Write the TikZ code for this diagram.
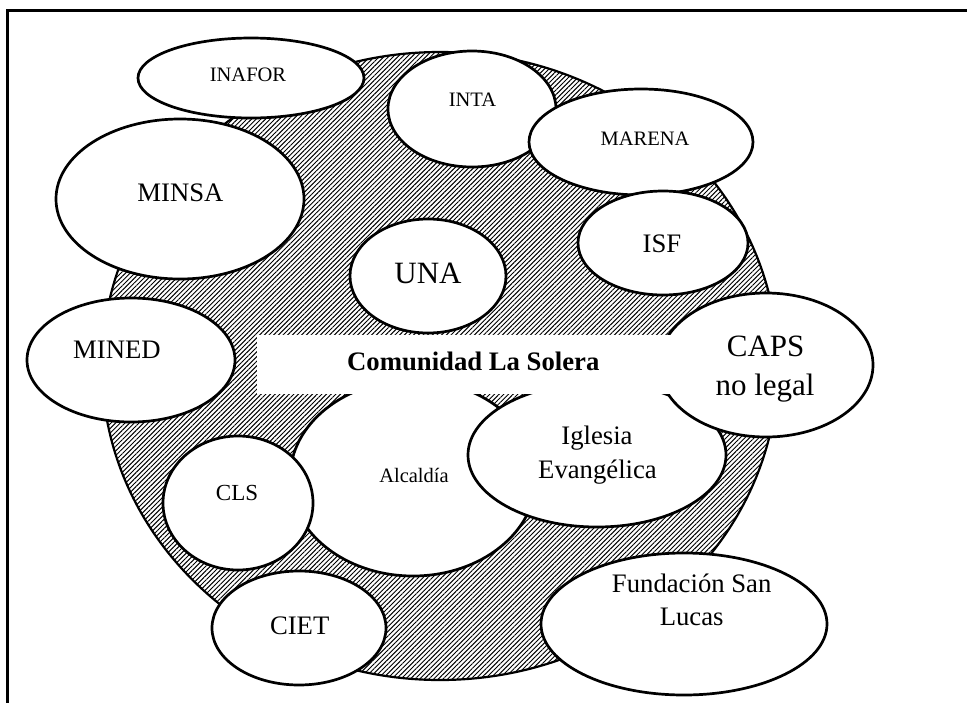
\documentclass[tikz,border=0pt]{standalone}
\usepackage{fontspec}
\setmainfont{Liberation Serif}
\usetikzlibrary{shapes.geometric,patterns.meta}
\begin{document}
\begin{tikzpicture}[x=1pt,y=-1pt,
  blob/.style={draw, line width=2.7pt, fill=white, ellipse, inner sep=0pt},
  lbl/.style={font=\fontsize{26.7}{30}\selectfont, inner sep=0pt, anchor=base},
  small/.style={font=\fontsize{20.5}{24}\selectfont, inner sep=0pt, anchor=base},
  big/.style={font=\fontsize{31}{36}\selectfont, inner sep=0pt, anchor=base}]
\useasboundingbox (0,0) rectangle (967,702);
% frame
\draw[line width=3pt] (7,710) -- (7,10) -- (975,10);
% hatched community area
\fill[pattern={Lines[angle=45,distance=3.3pt,line width=0.95pt]}] (440,366) ellipse [x radius=338, y radius=314];
\draw[line width=2.2pt] (440,366) ellipse [x radius=338, y radius=314];
% institutions
\node[blob, minimum width=226, minimum height=80]  (inafor)    at (251,78)  {};
\node[blob, minimum width=168, minimum height=116] (inta)      at (472,109) {};
\node[blob, minimum width=224, minimum height=106] (marena)    at (641,142) {};
\node[blob, minimum width=248, minimum height=160] (minsa)     at (180,199) {};
\node[blob, minimum width=156, minimum height=114] (una)       at (428,276) {};
\node[blob, minimum width=170, minimum height=104] (isf)       at (663,243) {};
\node[blob, minimum width=208, minimum height=124] (mined)     at (131,360) {};
\node[blob, minimum width=246, minimum height=196] (alcaldia)  at (413,478) {};
\node[blob, minimum width=258, minimum height=144] (iglesia)   at (597,455) {};
\node[blob, minimum width=150, minimum height=134] (cls)       at (238,503) {};
\node[blob, minimum width=174, minimum height=114] (ciet)      at (299,628) {};
\node[blob, minimum width=286, minimum height=142] (fundacion) at (684,624) {};
\node[blob, minimum width=214, minimum height=144] (caps)      at (766,365) {};
% title box
\node[fill=white, inner sep=0pt, minimum width=433, minimum height=59] (titlebox) at (473.5,364.5) {};
% labels
\node[small] (tinafor) at (248,81) {INAFOR};
\node[small] (tinta) at (472.5,106) {INTA};
\node[small] (tmarena) at (645,145) {MARENA};
\node[lbl] (tminsa) at (180.5,201) {MINSA};
\node[big] (tuna) at (428,283) {UNA};
\node[lbl] (tisf) at (662,252) {ISF};
\node[lbl] (tmined) at (117,358) {MINED};
\node[lbl, font=\bfseries\fontsize{26.7}{30}\selectfont] (ttitle) at (473.3,370) {Comunidad La Solera};
\node[big] (tcaps1) at (765.7,356) {CAPS};
\node[big] (tcaps2) at (765,395) {no legal};
\node[small] (talcaldia) at (414,482) {Alcaldía};
\node[lbl] (tiglesia1) at (597,444) {Iglesia};
\node[lbl] (tiglesia2) at (597.5,478) {Evangélica};
\node[small, font=\fontsize{23}{26}\selectfont] (tcls) at (237,500) {CLS};
\node[lbl] (tciet) at (299.7,634) {CIET};
\node[lbl] (tfund1) at (691.7,592) {Fundación San};
\node[lbl] (tfund2) at (691.7,625) {Lucas};
\end{tikzpicture}
\end{document}
